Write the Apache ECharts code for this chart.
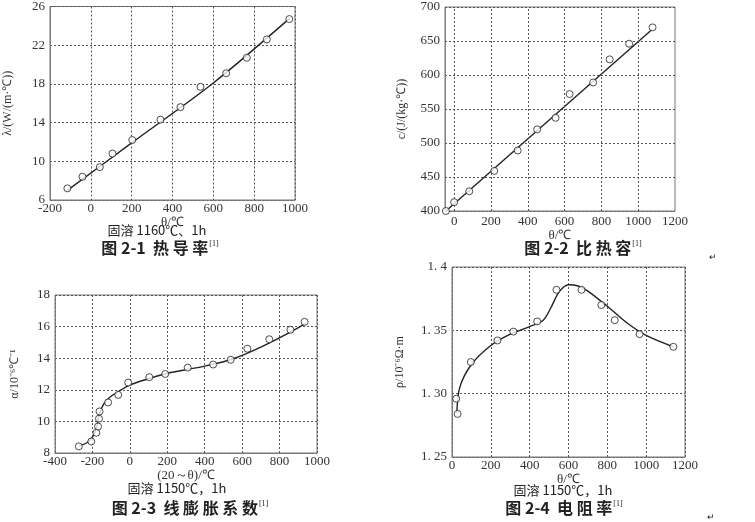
<!DOCTYPE html>
<html>
<head>
<meta charset="utf-8">
<script src="https://cdn.jsdelivr.net/npm/echarts@6/dist/echarts.min.js"></script>
<style>
  html, body { margin: 0; padding: 0; background: #fff; }
  #main { width: 755px; height: 522px; }
</style>
</head>
<body>
<div id="main"></div>
<script>
// 图 2-1 热导率
const tcTemp = [-115, -41, 44, 106, 203, 341, 439, 537, 663, 764, 862, 972]
const tcVal = [7.2, 8.4, 9.4, 10.8, 12.2, 14.3, 15.6, 17.7, 19.1, 20.7, 22.6, 24.7]
const tcFitTemp = [-115, 200, 600, 975]
const tcFitVal = [7.0, 11.9, 18.1, 24.8]

// 图 2-2 比热容
const shTemp = [-45, 0, 82, 218, 345, 451, 551, 627, 755, 845, 951, 1078]
const shVal = [400, 413, 429, 459, 489, 520, 537, 572, 589, 623, 646, 670]
const shFitTemp = [-45, 1075]
const shFitVal = [400, 667]
const shTicks = [0, 200, 400, 600, 800, 1000]

// 图 2-3 线膨胀系数
const exTemp = [-273, -206, -179, -170, -165, -162, -116, -62, -9, 104, 189, 309, 445, 539, 628, 745, 858, 934]
const exVal = [8.42, 8.73, 9.28, 9.68, 10.17, 10.63, 11.2, 11.68, 12.46, 12.8, 13.0, 13.4, 13.6, 13.9, 14.6, 15.2, 15.8, 16.3]
const exFitTemp = [-270, -230, -200, -180, -162, -140, -110, -60, 0, 100, 200, 400, 550, 700, 850, 940]
const exFitVal = [8.45, 8.65, 9.0, 9.5, 10.5, 11.1, 11.5, 11.9, 12.3, 12.7, 13.05, 13.5, 13.95, 14.7, 15.6, 16.2]

// 图 2-4 电阻率
const rsTemp = [22, 29, 97, 234, 316, 439, 538, 667, 769, 838, 966, 1140]
const rsVal = [1.296, 1.284, 1.325, 1.342, 1.349, 1.357, 1.382, 1.382, 1.370, 1.358, 1.347, 1.337]
const rsFitTemp = [25, 40, 100, 200, 300, 400, 470, 510, 550, 600, 650, 700, 800, 900, 1000, 1140]
const rsFitVal = [1.285, 1.305, 1.323, 1.338, 1.347, 1.353, 1.358, 1.368, 1.380, 1.386, 1.385, 1.381, 1.369, 1.356, 1.346, 1.337]

const pairs = (xs, ys) => xs.map((x, i) => [x, ys[i]])

const serif = 'Liberation Serif'
const cjk = 'Noto Sans CJK SC'
const gridLine = { show: true, lineStyle: { color: '#555', width: 1, type: [2, 2] } }
const edge = { show: true, onZero: false, lineStyle: { color: '#777', width: 1, type: [1, 1] } }
const tickLabel = { color: '#333', fontFamily: serif, fontSize: 13 }

function xAx(idx, min, max, interval, nameGap, name, extra) {
  return Object.assign({
    type: 'value', gridIndex: idx, min, max, interval,
    name, nameLocation: 'middle', nameGap,
    nameTextStyle: { color: '#333', fontFamily: serif, fontSize: 13 },
    axisLine: edge, axisTick: { show: false },
    axisLabel: Object.assign({ margin: 2, formatter: v => String(v) }, tickLabel),
    splitLine: gridLine
  }, extra || {})
}
function yAx(idx, min, max, interval, nameGap, name, extra) {
  return Object.assign({
    type: 'value', gridIndex: idx, min, max, interval,
    name, nameLocation: 'middle', nameGap, nameRotate: 90,
    nameTextStyle: { color: '#333', fontFamily: serif, fontSize: 12 },
    axisLine: edge, axisTick: { show: false },
    axisLabel: Object.assign({ margin: 5, formatter: v => String(v) }, tickLabel),
    splitLine: gridLine
  }, extra || {})
}
function pts(idx, data) {
  return {
    type: 'scatter', xAxisIndex: idx, yAxisIndex: idx, data,
    symbol: 'circle', symbolSize: 7, z: 5,
    itemStyle: { color: '#fff', borderColor: '#222', borderWidth: 1 }
  }
}
function fit(idx, data, smooth, extra) {
  return Object.assign({
    type: 'line', xAxisIndex: idx, yAxisIndex: idx, data,
    smooth, showSymbol: false, symbol: 'none', z: 4,
    lineStyle: { color: '#222', width: 1.4 }
  }, extra || {})
}
function txt(x, y, text, size, font, rich) {
  return {
    type: 'text', x, y,
    style: {
      text, fill: '#222', font: size + 'px "' + font + '"',
      align: 'center', verticalAlign: 'middle', rich
    }
  }
}
const capRich = {
  c: { fontSize: 16, fontFamily: cjk, fontWeight: 'bold', fill: '#222' },
  s: { fontSize: 8, fontFamily: serif, verticalAlign: 'top', padding: [0, 0, 9, 1], fill: '#222' }
}

const chart = echarts.init(document.getElementById('main'))
chart.setOption({
  animation: false,
  backgroundColor: '#fff',
  grid: [
    { left: 50, top: 5, width: 245, height: 195, show: true, borderColor: '#777' },
    { left: 445, top: 7, width: 230, height: 204, show: true, borderColor: '#777' },
    { left: 55, top: 295, width: 262, height: 158, show: true, borderColor: '#777' },
    { left: 452, top: 267, width: 233, height: 190, show: true, borderColor: '#777' }
  ],
  xAxis: [
    xAx(0, -200, 1000, 200, 12, 'θ/℃'),
    xAx(1, -50, 1200, 50, 12, 'θ/℃', {
      splitLine: { show: false },
      axisLabel: Object.assign({ margin: 4, formatter: v => (v % 200 === 0 ? String(v) : '') }, tickLabel)
    }),
    xAx(2, -400, 1000, 200, 3, '(20～θ)/℃'),
    xAx(3, 0, 1200, 200, 12, 'θ/℃')
  ],
  yAxis: [
    yAx(0, 6, 26, 4, 36, 'λ/(W/(m·℃))'),
    yAx(1, 400, 700, 50, 37, 'c/(J/(kg·℃))'),
    yAx(2, 8, 18, 2, 34, 'α/10⁻⁶℃⁻¹'),
    yAx(3, 1.25, 1.4, 0.05, 46, 'ρ/10⁻⁶Ω·m', {
      axisLabel: Object.assign({ margin: 5, formatter: v => v.toFixed(Math.abs(v - 1.4) < 1e-9 ? 1 : 2).replace('.', '. ') }, tickLabel)
    })
  ],
  series: [
    fit(0, pairs(tcFitTemp, tcFitVal), 0.3),
    pts(0, pairs(tcTemp, tcVal)),
    fit(1, pairs(shFitTemp, shFitVal), false, {
      markLine: {
        silent: true, symbol: 'none', label: { show: false },
        lineStyle: { color: '#555', width: 1, type: [2, 2] },
        data: shTicks.map(t => ({ xAxis: t }))
      }
    }),
    pts(1, pairs(shTemp, shVal)),
    fit(2, pairs(exFitTemp, exFitVal), 0.3),
    pts(2, pairs(exTemp, exVal)),
    fit(3, pairs(rsFitTemp, rsFitVal), 0.3),
    pts(3, pairs(rsTemp, rsVal))
  ],
  graphic: [
    txt(157, 230, '固溶 1160℃、1h', 13, cjk),
    txt(160, 248, '{c|图 2-1  热 导 率}{s|[1]}', 16, cjk, capRich),
    txt(583, 248, '{c|图 2-2  比 热 容}{s|[1]}', 16, cjk, capRich),
    txt(177, 488, '固溶 1150℃，1h', 13, cjk),
    txt(190, 508, '{c|图 2-3  线 膨 胀 系 数}{s|[1]}', 16, cjk, capRich),
    txt(563, 490, '固溶 1150℃，1h', 13, cjk),
    txt(564, 508, '{c|图 2-4  电 阻 率}{s|[1]}', 16, cjk, capRich),
    txt(713, 258, '↵', 9, serif),
    txt(711, 518, '↵', 9, serif)
  ]
})
</script>
</body>
</html>
